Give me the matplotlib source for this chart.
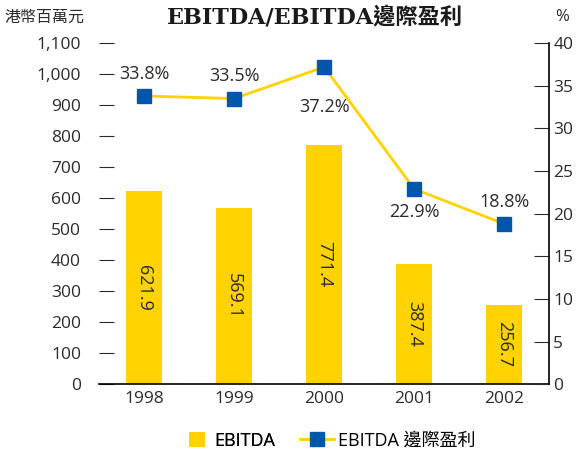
import matplotlib.pyplot as plt
from matplotlib.lines import Line2D
from matplotlib.patches import Patch

plt.rcParams['font.family'] = ['Open Sans', 'Noto Sans CJK TC', 'DejaVu Sans']

years = ['1998', '1999', '2000', '2001', '2002']
ebitda = [621.9, 569.1, 771.4, 387.4, 256.7]
margin = [33.8, 33.5, 37.2, 22.9, 18.8]
# label offset from the marker, in percentage points
margin_off = [2.6, 2.6, -4.7, -2.7, 2.6]

yellow = '#FFD200'
blue = '#0057A8'
txt = '#2a2a2a'

fig = plt.figure(figsize=(5.83, 4.59), dpi=100)
ax = fig.add_axes([0.170, 0.163, 0.772, 0.743])
x = range(len(years))

ax.bar(x, ebitda, width=0.4, color=yellow, zorder=1)
for i, v in enumerate(ebitda):
    ax.text(i, v / 2, f'{v:.1f}', rotation=-90, ha='center', va='center',
            fontsize=13, color=txt)

ax.set_xlim(-0.5, 4.5)
ax.set_ylim(0, 1100)
ax.set_yticks(range(0, 1101, 100))
ax.set_yticklabels([f'{v:,}' for v in range(0, 1101, 100)])
ax.set_xticks(list(x))
ax.set_xticklabels(years)
ax.tick_params(axis='y', direction='in', length=11, labelsize=12.5, pad=13, colors=txt)
ax.tick_params(axis='x', length=0, labelsize=12.5, pad=5, colors=txt)
for s in ['left', 'top', 'right']:
    ax.spines[s].set_visible(False)
ax.spines['bottom'].set_linewidth(1.2)

ax2 = ax.twinx()
ax2.plot(x, margin, color=yellow, lw=2, marker='s', markersize=10,
         markerfacecolor=blue, markeredgecolor=blue, zorder=3)
ax2.set_ylim(0, 40)
ax2.set_yticks(range(0, 41, 5))
ax2.tick_params(axis='y', direction='in', length=11, labelsize=12.5, pad=3, colors=txt)
for s in ['left', 'top', 'bottom']:
    ax2.spines[s].set_visible(False)
ax2.spines['right'].set_linewidth(1.2)
for i, (v, off) in enumerate(zip(margin, margin_off)):
    ax2.text(i, v + off, f'{v:.1f}%', ha='center', va='center', fontsize=13, color=txt)

fig.text(0.008, 0.962, '港幣百萬元', fontsize=11.5, va='center', ha='left', color=txt,
         family=['Noto Sans CJK TC'])
fig.text(0.952, 0.962, '%', fontsize=12, va='center', ha='left', color=txt)
fig.text(0.54, 0.962, 'EBITDA/EBITDA邊際盈利', fontsize=16, fontweight='bold', va='center',
         ha='center', color='#1a1a1a', family=['DejaVu Serif', 'Noto Sans CJK TC'])

leg1 = fig.legend([Patch(facecolor=yellow, edgecolor='none')], ['EBITDA'],
                  loc='center', bbox_to_anchor=(0.398, 0.04), frameon=False, fontsize=13,
                  handlelength=0.9, handleheight=0.9, handletextpad=0.5)
fig.legend([Line2D([], [], color=yellow, lw=2, marker='s', markersize=10,
                   markerfacecolor=blue, markeredgecolor=blue)], ['EBITDA 邊際盈利'],
           loc='center', bbox_to_anchor=(0.665, 0.04), frameon=False, fontsize=13,
           handlelength=1.9, handletextpad=0.25)
fig.add_artist(leg1)

fig.savefig('out.png', dpi=100)
